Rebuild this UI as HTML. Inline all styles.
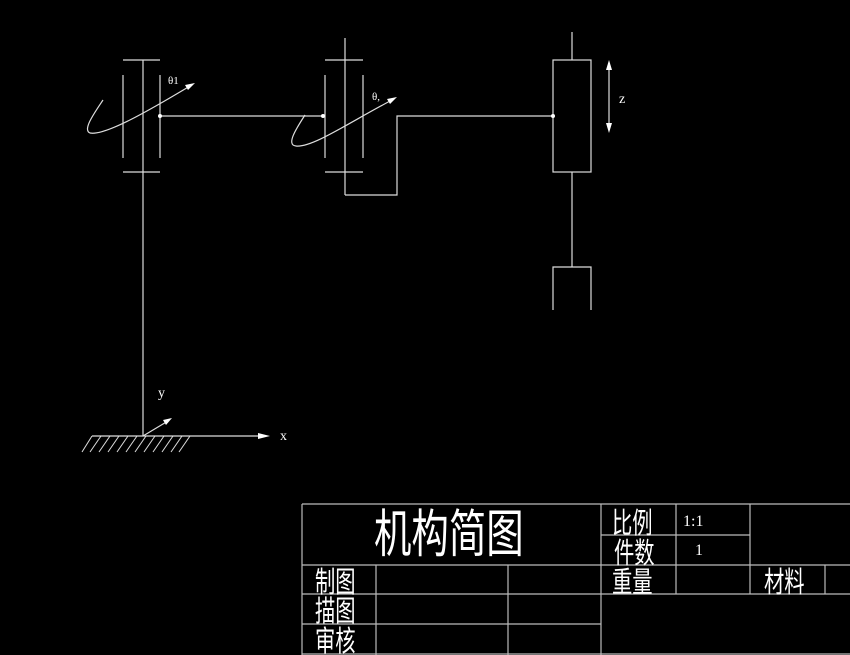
<!DOCTYPE html>
<html><head><meta charset="utf-8"><style>
html,body{margin:0;padding:0;background:#000;width:850px;height:655px;overflow:hidden}
svg{display:block}
text{fill:#fff;font-family:"Liberation Serif","Noto Sans CJK SC",serif}
.c{font-family:"Liberation Sans","Noto Sans CJK SC",sans-serif}
</style></head><body>
<svg width="850" height="655" viewBox="0 0 850 655" xmlns="http://www.w3.org/2000/svg">
<g stroke="#ddd" stroke-width="1.2" fill="none">
<!-- joint 1 -->
<line x1="143" y1="60" x2="143" y2="436"/>
<line x1="123" y1="60" x2="160" y2="60"/>
<line x1="123" y1="172" x2="160" y2="172"/>
<line x1="123" y1="75" x2="123" y2="158"/>
<line x1="160" y1="75" x2="160" y2="158"/>
<line x1="160" y1="116" x2="323" y2="116"/>
<path d="M103,100 C95,112 82,130 90,133 C105,136 150,110 190,86"/>
<!-- joint 2 -->
<line x1="345" y1="38" x2="345" y2="195"/>
<line x1="325" y1="60" x2="363" y2="60"/>
<line x1="325" y1="172" x2="363" y2="172"/>
<line x1="325" y1="75" x2="325" y2="158"/>
<line x1="363" y1="75" x2="363" y2="158"/>
<path d="M305,115 C298,126 285,145 296,146 C312,148 350,122 392,100"/>
<polyline points="345,195 397,195 397,116 553,116"/>
<!-- prismatic -->
<rect x="553" y="60" width="38" height="112"/>
<line x1="572" y1="32" x2="572" y2="60"/>
<line x1="572" y1="172" x2="572" y2="267"/>
<polyline points="553,310 553,267 591,267 591,310"/>
<line x1="609" y1="64" x2="609" y2="129"/>
<!-- base -->
<line x1="92" y1="436" x2="264" y2="436"/>
<line x1="143" y1="436" x2="168" y2="421"/>
<g stroke-width="1">
<line x1="92" y1="436" x2="82" y2="452"/><line x1="101" y1="436" x2="90" y2="452"/>
<line x1="110" y1="436" x2="99" y2="452"/><line x1="119" y1="436" x2="108" y2="452"/>
<line x1="128" y1="436" x2="117" y2="452"/><line x1="137" y1="436" x2="126" y2="452"/>
<line x1="146" y1="436" x2="135" y2="452"/><line x1="155" y1="436" x2="144" y2="452"/>
<line x1="164" y1="436" x2="153" y2="452"/><line x1="173" y1="436" x2="162" y2="452"/>
<line x1="182" y1="436" x2="171" y2="452"/><line x1="190" y1="436" x2="179" y2="452"/>
</g>
</g>
<g fill="#fff">
<polygon points="195,83 185,85 188,90"/>
<polygon points="397,97 387,99 390,104"/>
<polygon points="609,60 606,70 612,70"/>
<polygon points="609,133 606,123 612,123"/>
<polygon points="270,436 258,433 258,439"/>
<polygon points="172,418 163,420 166,425"/>
<circle cx="160" cy="116" r="2"/><circle cx="323" cy="116" r="2"/><circle cx="553" cy="116" r="2"/>
</g>
<text x="168" y="84" font-size="11">θ1</text>
<text x="372" y="100" font-size="11">θ,</text>
<text x="619" y="103" font-size="14">z</text>
<text x="158" y="397" font-size="14">y</text>
<text x="280" y="440" font-size="14">x</text>
<!-- title block -->
<g stroke="#bbb" stroke-width="1.2" fill="none">
<line x1="302" y1="504" x2="850" y2="504"/>
<line x1="302" y1="504" x2="302" y2="655"/>
<line x1="302" y1="565" x2="850" y2="565"/>
<line x1="302" y1="594" x2="850" y2="594"/>
<line x1="302" y1="624" x2="601" y2="624"/>
<line x1="302" y1="654" x2="850" y2="654"/>
<line x1="601" y1="535" x2="750" y2="535"/>
<line x1="601" y1="504" x2="601" y2="655"/>
<line x1="376" y1="565" x2="376" y2="655"/>
<line x1="508" y1="565" x2="508" y2="655"/>
<line x1="676" y1="504" x2="676" y2="594"/>
<line x1="750" y1="504" x2="750" y2="594"/>
<line x1="825" y1="565" x2="825" y2="594"/>
</g>
<g class="c">
<text transform="translate(374,552) scale(0.72,1)" font-size="52" class="c">机构简图</text>
<text transform="translate(612,533) scale(0.7,1)" font-size="29" class="c">比例</text>
<text transform="translate(614,563) scale(0.7,1)" font-size="29" class="c">件数</text>
<text transform="translate(612,592) scale(0.7,1)" font-size="29" class="c">重量</text>
<text transform="translate(764,592) scale(0.7,1)" font-size="29" class="c">材料</text>
<text transform="translate(315,592) scale(0.7,1)" font-size="29" class="c">制图</text>
<text transform="translate(315,621) scale(0.7,1)" font-size="29" class="c">描图</text>
<text transform="translate(315,651) scale(0.7,1)" font-size="29" class="c">审核</text>
</g>
<text x="683" y="526" font-size="16">1:1</text>
<text x="695" y="555" font-size="16">1</text>
</svg>
</body></html>
